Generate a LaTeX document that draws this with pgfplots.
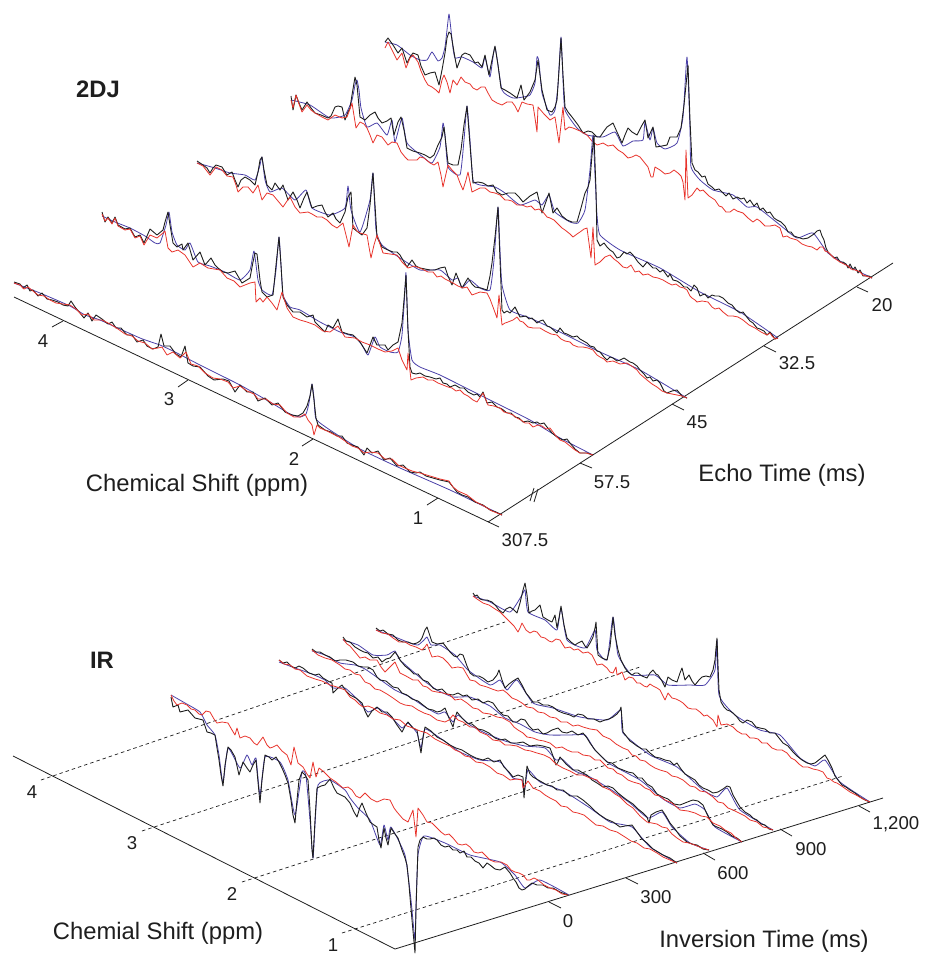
\documentclass[border=0pt]{standalone}
\usepackage{pgfplots}
\pgfplotsset{compat=1.18}
\usepackage{fontspec}
\setmainfont{Liberation Sans}
\definecolor{rd}{HTML}{E8342C}
\definecolor{bl}{HTML}{4A40A8}
\definecolor{bk}{HTML}{1E1E1E}
\pgfplotsset{
 kk/.style={bk,line width=0.9pt,line join=round,no markers},
 bb/.style={bl,line width=0.8pt,line join=round,no markers,smooth,tension=0.3},
 rr/.style={rd,line width=0.8pt,line join=round,no markers},
 ax/.style={bk,line width=0.8pt,no markers},
 dd/.style={bk,line width=0.7pt,dash pattern=on 3.5pt off 3pt,no markers},
}
\newcommand{\lab}{\fontsize{18.6}{20}\selectfont}
\newcommand{\tit}{\fontsize{23.8}{26}\selectfont}
\tikzset{tx/.style={inner sep=0pt,text=bk}}
\begin{document}
\begin{tikzpicture}
\begin{axis}[scale only axis,width=931pt,height=954pt,xmin=0,xmax=931,ymin=0,ymax=954,y dir=reverse,hide axis,clip=true]
% ===== top axes
\addplot[ax] coordinates {(14,297)(499,527)};
\addplot[ax] coordinates {(488,522)(893,263)};
\addplot[ax] coordinates {(63,321)(52,327)};
\addplot[ax] coordinates {(188,380)(178,387)};
\addplot[ax] coordinates {(313,439)(302,446)};
\addplot[ax] coordinates {(438,498)(427,505)};
\addplot[ax] coordinates {(580,463)(592,468)};
\addplot[ax] coordinates {(672,404)(684,410)};
\addplot[ax] coordinates {(764,346)(776,352)};
\addplot[ax] coordinates {(857,287)(868,292)};
\addplot[ax] coordinates {(530,501)(534,488)};
\addplot[ax] coordinates {(534,502)(538,489)};
% ===== T5
\addplot[bb] coordinates {(385,42)(397,45)(410,55)(420,60)(427,60)(432,52)(438,61)(442,58)(445,47)(447,30)(449,14)(451,30)(453,48)(455,58)(462,57)(473,62)(482,68)(485,57)(490,77)(495,47)(502,90)(513,98)(523,97)(530,95)(535,83)(537,57)(539,62)(542,93)(550,115)(555,110)(558,85)(561,37)(563,80)(565,110)(577,128)(587,135)(603,137)(615,132)(623,146)(633,141)(643,140)(645,122)(650,140)(653,128)(657,143)(665,149)(677,143)(683,117)(687,57)(690,130)(691,167)(700,180)(713,190)(733,195)(747,207)(757,207)(780,225)(797,238)(813,233)(828,253)(850,267)(872,278)};
\addplot[kk] coordinates {(385,42)(388,38)(393,45)(398,53)(402,48)(407,63)(410,57)(413,53)(418,55)(421,66)(425,75)(430,73)(435,72)(439,85)(442,70)(445,53)(447,38)(449,32)(451,34)(452,40)(455,58)(457,68)(460,60)(462,55)(465,53)(470,55)(475,63)(478,62)(482,67)(485,55)(489,75)(492,60)(495,46)(498,65)(501,88)(505,90)(510,93)(517,98)(521,85)(524,100)(530,92)(535,80)(538,60)(540,75)(542,90)(547,110)(552,112)(555,107)(557,100)(559,70)(561,38)(563,75)(565,107)(568,112)(572,117)(578,125)(583,133)(588,131)(592,132)(597,137)(600,137)(604,131)(607,127)(613,123)(617,132)(622,143)(625,135)(628,128)(632,132)(637,135)(641,127)(645,120)(648,138)(653,127)(656,147)(662,146)(667,145)(670,137)(677,137)(681,128)(684,105)(686,85)(688,65)(690,120)(692,163)(695,170)(698,172)(702,177)(705,176)(708,184)(712,187)(715,190)(719,189)(722,192)(726,196)(729,193)(733,199)(737,197)(741,199)(744,198)(747,203)(750,200)(754,206)(757,203)(760,210)(763,208)(767,213)(770,212)(774,218)(777,220)(781,222)(785,226)(788,232)(791,232)(794,236)(797,237)(803,239)(808,238)(814,234)(817,231)(820,230)(822,236)(824,240)(826,248)(828,252)(831,255)(834,258)(837,257)(840,262)(843,262)(846,264)(848,268)(850,264)(853,270)(855,267)(858,273)(860,270)(863,276)(866,276)(869,276)(872,278)};
\addplot[rr] coordinates {(385,48)(388,42)(392,50)(397,60)(402,53)(406,68)(410,58)(413,55)(418,62)(421,71)(425,80)(428,85)(432,87)(436,90)(439,93)(442,80)(444,75)(447,82)(450,93)(453,80)(457,85)(461,77)(465,82)(470,84)(473,88)(477,90)(481,87)(485,87)(488,93)(492,100)(497,103)(502,105)(507,102)(512,102)(515,106)(518,112)(522,102)(527,104)(533,105)(535,118)(537,132)(538,107)(544,114)(550,120)(555,117)(557,130)(559,143)(561,125)(563,107)(565,130)(569,127)(573,128)(580,131)(587,135)(592,141)(597,145)(603,143)(608,146)(613,145)(618,150)(623,153)(628,158)(632,157)(636,155)(640,157)(644,162)(648,167)(651,177)(653,177)(655,167)(660,170)(665,174)(670,173)(674,170)(678,173)(681,176)(683,182)(685,200)(686,150)(688,198)(692,195)(697,188)(700,191)(703,190)(709,196)(715,200)(719,206)(722,207)(726,212)(730,212)(734,209)(737,211)(743,213)(748,218)(753,222)(757,219)(760,221)(765,226)(770,226)(775,225)(780,228)(783,237)(787,236)(790,238)(797,240)(802,244)(807,246)(812,247)(817,250)(820,247)(823,247)(825,251)(828,252)(834,258)(840,262)(844,264)(848,266)(851,269)(855,270)(858,271)(860,272)(863,275)(866,276)(869,277)(872,278)};
% ===== T4
\addplot[bb] coordinates {(291,100)(310,105)(330,118)(345,115)(352,100)(355,85)(357,80)(359,90)(361,108)(367,127)(377,123)(387,135)(392,120)(395,142)(402,118)(407,143)(423,157)(432,163)(440,147)(443,123)(445,135)(448,167)(460,175)(464,140)(467,106)(470,140)(473,180)(480,185)(495,187)(505,193)(520,205)(535,200)(542,205)(549,195)(555,212)(570,222)(578,223)(585,210)(590,170)(593,135)(595,175)(597,215)(600,235)(620,250)(660,268)(700,292)(740,312)(778,338)};
\addplot[kk] coordinates {(291,96)(293,110)(296,95)(299,103)(302,110)(307,102)(311,108)(315,113)(321,115)(328,118)(331,116)(335,107)(338,106)(342,107)(345,120)(348,112)(350,108)(352,95)(355,77)(357,85)(360,117)(365,120)(370,115)(375,112)(378,118)(382,123)(387,121)(391,118)(394,135)(398,122)(401,117)(404,130)(407,148)(413,151)(420,153)(425,155)(430,158)(434,155)(438,145)(442,137)(444,127)(446,145)(448,163)(453,165)(458,165)(461,150)(464,125)(467,106)(470,145)(473,183)(478,182)(483,183)(488,186)(493,185)(497,192)(502,195)(508,193)(515,193)(519,197)(523,202)(530,196)(537,192)(542,213)(549,193)(553,213)(557,208)(562,216)(567,220)(572,222)(577,222)(581,208)(585,193)(588,187)(590,180)(592,155)(594,135)(596,190)(597,240)(600,246)(604,243)(607,247)(610,250)(613,252)(617,258)(620,257)(624,252)(627,254)(630,252)(633,255)(638,262)(643,267)(647,262)(650,265)(653,268)(656,268)(660,272)(663,270)(668,277)(670,274)(673,280)(677,281)(680,283)(684,287)(687,287)(691,291)(694,285)(697,288)(700,296)(702,295)(705,294)(708,298)(712,295)(715,296)(719,296)(723,298)(728,303)(732,305)(736,310)(740,313)(743,312)(746,316)(750,321)(753,323)(757,328)(760,329)(764,331)(767,335)(770,332)(775,339)(778,338)};
\addplot[rr] coordinates {(291,100)(293,108)(296,95)(299,104)(302,112)(307,105)(311,110)(315,113)(322,117)(328,120)(335,115)(342,118)(347,117)(350,109)(352,103)(356,128)(360,122)(364,124)(367,128)(370,135)(373,143)(377,135)(382,137)(385,141)(388,145)(392,142)(397,143)(401,152)(405,157)(408,160)(411,160)(417,160)(420,157)(424,158)(430,163)(434,165)(438,162)(441,175)(443,187)(448,165)(452,170)(457,175)(460,183)(463,190)(466,180)(468,172)(472,192)(476,190)(480,188)(485,188)(490,192)(495,193)(500,195)(505,200)(508,200)(512,201)(517,205)(522,205)(527,207)(531,206)(535,210)(539,209)(543,212)(547,217)(550,218)(554,220)(557,223)(562,228)(565,230)(570,234)(573,237)(577,234)(580,232)(584,229)(587,228)(589,243)(591,258)(593,227)(595,265)(600,262)(605,257)(610,255)(614,259)(618,262)(623,267)(627,268)(631,265)(635,272)(639,271)(643,275)(648,274)(653,277)(658,278)(663,280)(668,283)(672,285)(676,284)(680,287)(684,288)(687,290)(690,296)(692,298)(695,300)(697,302)(702,301)(708,302)(712,307)(715,309)(719,308)(723,312)(728,316)(733,316)(738,317)(743,320)(749,325)(755,328)(761,332)(767,335)(770,333)(772,336)(775,339)(778,338)};
% ===== T3
\addplot[bb] coordinates {(197,163)(215,168)(230,173)(245,175)(255,180)(260,165)(262,157)(265,180)(270,192)(282,188)(295,200)(306,190)(312,208)(330,215)(345,208)(348,186)(351,210)(360,232)(370,200)(373,173)(376,230)(382,245)(400,258)(420,270)(440,270)(452,280)(458,278)(462,288)(470,280)(480,288)(490,290)(494,260)(498,207)(500,250)(502,285)(510,310)(530,318)(560,332)(600,352)(640,370)(687,398)};
\addplot[kk] coordinates {(197,161)(203,165)(207,168)(210,173)(213,168)(216,165)(222,167)(227,175)(232,172)(235,180)(238,187)(241,180)(245,177)(250,180)(255,185)(258,172)(260,160)(262,157)(264,170)(267,185)(272,190)(275,183)(280,190)(283,185)(288,200)(293,192)(297,200)(300,208)(304,198)(307,192)(312,208)(317,206)(322,205)(325,212)(328,217)(333,213)(336,219)(340,223)(345,212)(348,197)(351,192)(353,228)(358,232)(362,235)(367,228)(370,205)(373,173)(375,205)(377,237)(382,247)(388,250)(393,252)(397,252)(400,255)(407,267)(412,260)(416,266)(420,268)(425,269)(430,270)(435,270)(440,268)(445,267)(448,276)(452,285)(456,273)(462,288)(468,278)(472,284)(475,287)(481,288)(487,290)(490,276)(492,263)(495,237)(498,207)(500,260)(502,310)(504,313)(507,311)(510,313)(515,307)(520,317)(526,316)(529,319)(532,318)(537,323)(540,321)(543,320)(547,326)(550,327)(557,333)(560,328)(564,333)(567,334)(573,337)(577,336)(580,339)(587,343)(590,346)(594,347)(597,351)(600,352)(604,357)(607,360)(610,357)(613,358)(617,361)(620,360)(624,358)(627,360)(630,362)(633,363)(637,366)(640,370)(644,374)(647,378)(650,377)(653,381)(657,380)(660,383)(664,391)(667,393)(672,391)(677,390)(682,396)(687,398)};
\addplot[rr] coordinates {(197,163)(203,166)(210,175)(216,167)(222,170)(227,176)(233,177)(236,185)(238,192)(243,187)(248,187)(253,193)(258,185)(262,200)(267,193)(273,195)(278,201)(283,207)(287,201)(290,197)(295,207)(300,213)(308,212)(312,214)(317,217)(322,217)(327,220)(332,225)(337,228)(343,223)(346,235)(349,247)(353,225)(357,231)(360,233)(367,235)(369,247)(371,258)(374,245)(377,235)(383,253)(390,254)(397,255)(402,262)(408,268)(414,266)(420,268)(428,272)(433,272)(437,277)(441,276)(445,279)(453,283)(458,286)(463,288)(467,287)(472,295)(480,292)(487,293)(490,299)(493,307)(497,318)(499,295)(502,325)(505,323)(508,322)(513,320)(517,317)(520,321)(523,322)(528,327)(533,328)(540,328)(545,331)(551,334)(557,335)(561,339)(565,341)(570,342)(573,345)(578,347)(583,347)(588,348)(593,350)(597,355)(600,357)(604,359)(607,362)(613,361)(620,364)(627,363)(633,367)(637,370)(640,374)(647,380)(652,384)(657,387)(662,391)(667,393)(672,394)(677,395)(682,396)(687,398)};
% ===== T2
\addplot[bb] coordinates {(102,216)(115,222)(130,228)(145,236)(155,243)(160,243)(166,225)(169,212)(172,232)(177,245)(185,250)(190,243)(198,262)(210,266)(225,272)(240,280)(250,270)(254,251)(258,280)(262,290)(272,295)(276,270)(279,237)(281,265)(283,295)(290,307)(300,310)(320,322)(340,332)(355,337)(362,345)(368,355)(375,337)(380,347)(390,352)(398,352)(402,335)(405,290)(406,273)(408,330)(412,360)(420,367)(440,375)(470,390)(500,405)(530,420)(560,438)(593,455)};
\addplot[kk] coordinates {(102,212)(105,222)(108,217)(112,223)(115,217)(118,225)(125,229)(130,228)(135,237)(140,235)(144,243)(150,229)(157,235)(163,230)(165,222)(168,212)(170,225)(173,243)(177,247)(182,244)(183,250)(188,243)(193,260)(200,252)(205,265)(211,258)(215,265)(218,268)(223,272)(228,273)(235,271)(242,283)(250,278)(253,262)(255,253)(257,254)(260,280)(262,292)(267,297)(273,295)(276,265)(279,237)(281,265)(283,297)(287,305)(293,312)(300,312)(307,317)(313,315)(315,322)(320,327)(325,332)(328,325)(333,328)(338,319)(342,332)(348,334)(353,335)(360,342)(367,353)(373,337)(377,345)(385,345)(388,350)(393,345)(398,342)(402,323)(404,300)(406,275)(408,330)(410,367)(412,373)(416,374)(420,373)(425,376)(430,377)(436,379)(440,378)(443,383)(447,384)(450,387)(455,385)(460,388)(464,388)(468,392)(474,395)(477,394)(480,397)(483,392)(487,403)(492,402)(497,407)(502,409)(507,413)(511,413)(515,417)(519,418)(523,422)(528,421)(533,423)(537,422)(540,424)(544,423)(547,427)(552,433)(557,437)(563,440)(567,439)(570,443)(575,449)(580,453)(587,453)(593,455)};
\addplot[rr] coordinates {(102,214)(105,221)(108,218)(112,224)(115,218)(118,226)(125,230)(130,229)(135,238)(140,236)(144,245)(150,235)(157,238)(163,233)(165,231)(168,248)(172,252)(178,250)(185,255)(193,267)(200,263)(208,268)(220,270)(227,278)(234,281)(240,287)(250,283)(255,282)(256,302)(260,298)(263,302)(267,297)(272,303)(277,310)(282,292)(287,308)(293,317)(300,320)(307,322)(315,325)(323,331)(330,332)(338,326)(345,337)(355,338)(362,342)(370,345)(378,349)(385,352)(392,351)(398,348)(402,360)(407,370)(408,353)(411,380)(416,378)(423,377)(428,380)(433,380)(438,383)(443,385)(448,387)(452,388)(456,391)(460,390)(464,394)(468,396)(473,400)(477,402)(483,393)(488,405)(494,406)(500,408)(504,412)(508,413)(513,415)(517,418)(521,420)(525,423)(529,423)(533,427)(538,425)(542,426)(546,429)(550,428)(556,436)(560,440)(565,442)(570,446)(575,450)(580,453)(586,453)(593,455)};
% ===== T1
\addplot[bb] coordinates {(14,283)(40,293)(70,306)(85,315)(100,320)(140,338)(160,345)(175,352)(200,365)(240,385)(270,402)(290,414)(300,417)(306,414)(309,403)(312,384)(314,398)(316,419)(330,430)(360,449)(400,468)(450,490)(502,515)};
\addplot[kk] coordinates {(14,282)(20,284)(23,288)(27,285)(30,291)(33,290)(38,296)(42,293)(47,299)(52,300)(58,302)(63,305)(68,306)(71,301)(75,307)(80,313)(84,318)(88,313)(92,321)(96,315)(102,319)(108,324)(112,322)(116,328)(121,328)(127,335)(132,335)(137,342)(143,340)(147,346)(153,349)(158,347)(161,334)(164,346)(170,346)(176,354)(181,357)(185,346)(188,363)(193,366)(200,367)(208,376)(214,380)(223,379)(229,381)(235,392)(240,385)(247,392)(253,392)(258,401)(265,398)(272,405)(278,403)(285,412)(292,415)(298,416)(303,413)(307,406)(310,396)(312,384)(314,400)(316,418)(318,425)(325,430)(331,432)(337,436)(342,436)(347,443)(352,445)(358,447)(364,455)(367,448)(372,453)(378,451)(384,460)(390,458)(397,466)(403,465)(410,472)(416,473)(420,472)(426,476)(433,478)(440,480)(449,482)(453,487)(457,492)(462,495)(468,497)(475,502)(483,505)(490,510)(496,512)(502,515)};
\addplot[rr] coordinates {(14,283)(20,285)(24,289)(28,287)(33,291)(38,295)(44,296)(50,300)(56,303)(63,304)(70,305)(76,309)(82,315)(88,314)(94,320)(102,320)(110,324)(118,329)(125,334)(132,336)(138,341)(145,343)(152,349)(158,348)(162,347)(167,355)(173,352)(180,358)(186,352)(191,364)(198,366)(205,373)(213,378)(220,379)(228,382)(233,388)(240,386)(247,391)(254,394)(258,399)(266,399)(273,404)(280,405)(287,413)(294,417)(300,417)(305,414)(308,420)(312,425)(314,435)(317,425)(320,428)(327,431)(333,434)(339,437)(345,441)(352,446)(358,448)(364,453)(370,452)(378,453)(385,459)(392,459)(398,465)(405,468)(412,471)(420,473)(430,476)(440,479)(449,481)(453,487)(458,491)(467,495)(476,502)(484,506)(492,511)(502,515)};
% ===== bottom axes
\addplot[ax] coordinates {(13,756)(395,949)};
\addplot[ax] coordinates {(395,949)(883,798)};
\addplot[dd] coordinates {(41,780)(505,622)};
\addplot[dd] coordinates {(142,831)(640,667)};
\addplot[dd] coordinates {(242,882)(737,723)};
\addplot[dd] coordinates {(342,933)(843,776)};
\addplot[ax] coordinates {(549,902)(561,908)};
\addplot[ax] coordinates {(626,878)(638,884)};
\addplot[ax] coordinates {(703,853)(715,860)};
\addplot[ax] coordinates {(780,829)(792,836)};
\addplot[ax] coordinates {(859,806)(870,812)};
% ===== B6
\addplot[bb] coordinates {(473,596)(490,602)(510,612)(522,595)(525,590)(528,612)(545,620)(557,630)(561,608)(567,640)(585,648)(595,630)(597,650)(607,660)(613,617)(618,655)(632,675)(655,675)(668,685)(690,685)(705,685)(715,670)(717,640)(719,695)(735,715)(760,730)(780,735)(800,758)(815,766)(825,760)(840,782)(870,802)};
\addplot[kk] coordinates {(473,593)(475,596)(477,595)(480,599)(483,600)(487,600)(492,602)(496,606)(499,610)(503,613)(506,609)(510,607)(514,610)(517,613)(520,603)(523,590)(525,583)(527,595)(529,613)(532,611)(535,610)(538,607)(540,605)(543,617)(548,620)(552,622)(555,615)(557,628)(559,618)(561,606)(564,625)(567,638)(571,642)(575,645)(578,643)(582,641)(585,646)(587,648)(590,643)(593,637)(595,628)(596,622)(598,655)(602,658)(607,660)(610,647)(612,628)(613,617)(615,635)(618,650)(621,660)(625,668)(628,672)(632,675)(635,673)(638,673)(642,676)(647,678)(650,673)(653,670)(656,674)(658,675)(662,681)(665,687)(668,677)(672,680)(677,682)(680,673)(682,668)(685,680)(689,675)(692,681)(695,685)(699,680)(702,677)(706,676)(710,677)(713,670)(715,660)(716,648)(717,638)(718,665)(719,690)(721,702)(724,707)(727,710)(730,711)(733,713)(737,717)(740,721)(743,723)(747,720)(752,722)(756,727)(760,728)(765,729)(770,733)(775,733)(779,738)(783,743)(788,746)(793,752)(797,756)(802,760)(807,763)(811,764)(815,763)(820,759)(825,755)(828,760)(832,768)(835,776)(838,780)(842,785)(846,787)(850,790)(855,793)(860,797)(865,800)(870,802)};
\addplot[rr] coordinates {(473,596)(477,599)(483,603)(489,605)(495,609)(500,612)(505,617)(510,622)(514,626)(518,632)(520,628)(522,623)(526,630)(530,633)(534,631)(537,632)(541,637)(545,638)(549,641)(552,642)(556,639)(560,640)(565,648)(570,647)(574,650)(578,649)(583,653)(588,652)(592,655)(597,665)(602,664)(607,668)(610,672)(613,673)(616,667)(617,675)(622,672)(625,680)(629,677)(633,678)(637,683)(640,683)(644,686)(647,687)(650,684)(653,686)(657,688)(660,690)(665,700)(668,693)(672,698)(676,699)(680,701)(683,703)(688,708)(692,709)(696,709)(700,712)(704,716)(707,715)(713,720)(717,727)(718,715)(721,725)(727,724)(733,727)(737,731)(742,734)(746,734)(750,738)(754,738)(758,739)(762,743)(767,743)(772,748)(777,750)(782,750)(787,753)(791,758)(795,760)(799,764)(803,767)(808,767)(813,769)(818,770)(823,772)(827,778)(830,779)(834,782)(837,783)(843,787)(850,792)(856,795)(863,799)(870,802)};
% ===== B5
\addplot[bb] coordinates {(376,630)(395,637)(410,643)(418,645)(424,640)(427,637)(431,645)(440,645)(455,655)(468,670)(490,685)(500,680)(507,690)(517,680)(533,703)(553,708)(580,717)(607,720)(621,710)(623,733)(650,755)(677,767)(703,790)(717,797)(727,788)(740,810)(773,830)};
\addplot[kk] coordinates {(376,628)(380,631)(383,630)(388,634)(393,635)(398,640)(403,642)(408,642)(413,644)(417,643)(420,641)(422,638)(425,630)(427,627)(430,636)(432,642)(437,644)(443,643)(447,648)(450,652)(454,656)(457,657)(460,654)(463,655)(467,666)(470,673)(474,676)(479,676)(483,678)(488,682)(493,680)(497,675)(499,670)(502,680)(505,688)(509,684)(513,681)(518,678)(522,685)(526,693)(530,698)(533,702)(538,702)(543,705)(548,705)(553,707)(558,711)(563,713)(570,715)(574,717)(578,714)(583,715)(588,719)(594,719)(600,722)(605,720)(609,719)(613,717)(617,714)(620,710)(621,707)(623,732)(627,737)(630,741)(633,743)(637,746)(642,749)(646,749)(650,753)(655,757)(660,758)(665,760)(670,761)(674,765)(677,763)(681,769)(685,774)(690,777)(695,780)(699,785)(703,788)(708,790)(713,793)(718,792)(723,789)(727,786)(730,787)(733,795)(737,802)(740,807)(745,812)(750,815)(753,818)(757,820)(761,824)(765,825)(769,829)(773,830)};
\addplot[rr] coordinates {(376,630)(382,633)(388,634)(393,638)(399,642)(405,642)(410,645)(416,647)(422,650)(425,647)(427,644)(430,652)(432,657)(438,656)(443,658)(448,663)(452,668)(458,667)(463,668)(467,675)(470,680)(475,681)(480,685)(487,687)(492,689)(498,691)(503,690)(507,693)(512,698)(517,700)(522,703)(527,707)(533,708)(538,712)(544,713)(550,717)(556,718)(561,722)(567,722)(573,726)(578,725)(583,727)(590,729)(597,730)(603,736)(610,739)(616,744)(623,748)(628,750)(632,755)(636,756)(640,760)(645,761)(650,765)(655,768)(660,770)(667,772)(672,776)(677,777)(683,780)(690,786)(695,787)(700,791)(706,792)(713,797)(718,802)(723,803)(728,808)(733,810)(739,813)(745,816)(750,820)(757,822)(763,827)(768,828)(773,830)};
% ===== B4
\addplot[bb] coordinates {(343,640)(358,645)(373,655)(387,655)(395,651)(400,660)(423,680)(437,690)(453,697)(470,697)(490,706)(505,718)(520,724)(535,732)(550,735)(570,735)(585,735)(595,750)(610,764)(640,780)(663,799)(680,808)(695,804)(705,810)(715,827)(742,842)};
\addplot[kk] coordinates {(343,637)(346,641)(350,642)(355,647)(360,650)(364,652)(368,653)(373,658)(378,657)(382,662)(386,659)(390,658)(395,652)(398,656)(400,660)(405,666)(410,670)(414,674)(418,674)(423,680)(428,682)(433,688)(437,690)(442,689)(447,694)(453,695)(458,693)(463,696)(467,695)(472,700)(478,699)(483,703)(488,701)(493,703)(498,710)(503,715)(508,716)(513,722)(517,722)(521,719)(525,720)(529,726)(533,730)(538,729)(543,734)(547,733)(552,730)(558,728)(562,732)(567,733)(572,731)(578,735)(583,733)(587,738)(590,743)(595,750)(600,755)(607,762)(612,763)(618,768)(623,770)(628,772)(633,773)(638,778)(642,778)(647,784)(652,787)(657,794)(663,797)(668,799)(674,804)(680,805)(685,803)(690,801)(693,800)(698,801)(703,805)(706,812)(710,820)(713,825)(717,827)(722,829)(727,832)(732,836)(737,838)(742,842)};
\addplot[rr] coordinates {(343,639)(347,644)(350,646)(355,652)(360,658)(365,657)(370,660)(377,660)(381,667)(385,672)(390,667)(395,662)(400,673)(406,676)(413,680)(418,680)(423,686)(427,687)(432,691)(437,692)(443,693)(450,695)(455,700)(461,699)(467,703)(473,708)(478,709)(483,713)(490,714)(497,717)(503,718)(510,722)(514,727)(518,730)(523,733)(527,737)(533,738)(538,740)(544,741)(550,743)(556,748)(562,747)(567,750)(572,752)(578,752)(583,755)(590,756)(595,760)(600,760)(605,765)(608,768)(613,769)(617,773)(622,775)(628,780)(633,782)(640,784)(645,788)(650,790)(655,795)(660,796)(665,800)(672,803)(680,810)(688,811)(695,813)(701,816)(707,817)(713,823)(720,826)(725,830)(731,833)(736,838)(742,842)};
% ===== B3
\addplot[bb] coordinates {(312,651)(325,655)(340,663)(355,665)(365,669)(378,678)(395,690)(410,697)(425,707)(438,714)(445,712)(453,722)(458,715)(470,725)(485,733)(505,741)(525,746)(545,748)(556,760)(562,759)(575,771)(590,777)(610,789)(630,803)(648,818)(662,812)(672,827)(690,843)(709,850)};
\addplot[kk] coordinates {(312,649)(316,652)(320,652)(325,655)(330,657)(335,661)(340,660)(346,660)(353,662)(358,666)(363,667)(368,667)(373,670)(377,677)(380,680)(386,681)(393,687)(398,688)(402,693)(407,695)(412,699)(418,701)(423,705)(428,709)(433,710)(437,712)(441,711)(445,708)(449,718)(453,727)(455,718)(457,712)(462,718)(467,723)(472,724)(478,729)(483,730)(489,733)(495,738)(500,740)(505,739)(511,743)(517,743)(523,742)(530,746)(537,745)(543,746)(550,748)(553,756)(556,765)(558,762)(560,757)(566,764)(573,770)(578,770)(583,773)(587,775)(592,780)(597,783)(603,787)(608,786)(613,788)(618,793)(623,797)(627,800)(633,804)(638,809)(643,813)(647,817)(649,823)(651,815)(656,812)(662,810)(666,816)(670,823)(675,829)(680,836)(687,842)(692,844)(697,845)(703,849)(709,850)};
\addplot[rr] coordinates {(312,650)(318,655)(325,658)(332,660)(340,665)(345,669)(350,670)(355,674)(360,675)(365,682)(370,684)(375,689)(380,690)(387,694)(393,698)(400,703)(405,705)(412,706)(418,710)(424,713)(430,715)(437,720)(445,722)(449,720)(453,715)(458,720)(463,722)(470,727)(475,727)(480,732)(487,735)(493,740)(500,741)(505,745)(510,745)(517,746)(525,750)(531,751)(537,753)(544,755)(550,758)(556,764)(563,768)(570,771)(577,775)(583,775)(590,778)(597,780)(603,787)(610,790)(615,794)(620,797)(627,804)(633,808)(640,816)(647,822)(652,823)(657,824)(662,827)(667,828)(672,834)(677,838)(683,842)(689,843)(695,845)(702,848)(709,850)};
% ===== B2
\addplot[bb] coordinates {(279,662)(295,668)(312,674)(325,680)(333,688)(345,688)(358,700)(368,712)(378,708)(392,718)(402,728)(408,723)(417,733)(421,748)(425,729)(440,738)(460,752)(480,760)(500,762)(513,778)(522,780)(524,793)(528,770)(540,782)(565,792)(590,808)(610,822)(632,827)(650,847)(677,863)};
\addplot[kk] coordinates {(279,660)(283,663)(287,662)(291,666)(295,668)(299,666)(303,668)(309,673)(315,675)(319,674)(323,678)(328,681)(332,683)(333,693)(338,688)(342,685)(346,691)(350,695)(356,698)(362,703)(365,711)(368,717)(372,711)(377,707)(382,712)(387,712)(392,717)(397,725)(402,732)(405,726)(408,722)(413,728)(417,730)(419,742)(421,753)(423,738)(425,727)(431,731)(437,737)(443,740)(450,745)(456,748)(462,750)(470,755)(476,758)(483,760)(488,758)(494,762)(500,760)(504,767)(509,772)(513,777)(518,775)(523,777)(524,798)(527,766)(530,774)(533,777)(540,781)(547,785)(552,786)(557,790)(563,790)(570,796)(577,796)(583,800)(590,806)(595,811)(600,815)(606,819)(613,822)(620,827)(625,826)(632,825)(637,832)(642,839)(647,843)(653,849)(658,852)(663,855)(670,858)(677,863)};
\addplot[rr] coordinates {(279,660)(284,664)(290,665)(295,669)(300,670)(307,676)(315,679)(322,681)(330,685)(337,687)(345,690)(350,697)(355,700)(359,704)(363,707)(368,706)(373,708)(380,713)(387,715)(393,719)(400,720)(407,726)(413,728)(420,731)(427,733)(435,739)(443,743)(450,746)(455,750)(460,752)(465,756)(470,757)(476,762)(483,763)(490,767)(497,773)(503,775)(510,780)(516,779)(522,780)(523,788)(528,781)(533,788)(540,791)(545,795)(550,798)(556,801)(561,806)(567,807)(573,812)(578,813)(584,815)(590,820)(596,825)(603,826)(610,830)(617,832)(625,837)(631,841)(637,843)(644,848)(650,849)(657,853)(663,857)(670,860)(677,863)};
% ===== B1
\addplot[bb] coordinates {(171,695)(185,703)(200,712)(207,725)(215,735)(219,755)(223,783)(228,748)(240,768)(247,755)(252,765)(256,758)(260,795)(265,757)(280,762)(288,780)(295,815)(302,772)(306,776)(310,820)(313,858)(315,825)(318,785)(330,780)(345,790)(350,798)(358,808)(370,820)(380,845)(384,825)(388,840)(391,827)(405,855)(411,900)(415,940)(416,905)(418,855)(424,836)(445,843)(470,855)(500,862)(515,875)(525,888)(540,880)(569,895)};
\addplot[kk] coordinates {(171,697)(173,707)(178,705)(180,712)(184,711)(188,710)(195,718)(199,719)(203,720)(207,732)(211,733)(215,735)(217,748)(219,760)(221,775)(223,786)(225,765)(228,747)(231,750)(235,757)(237,766)(239,775)(243,762)(247,768)(250,772)(253,765)(256,760)(258,782)(260,803)(262,780)(265,755)(269,757)(272,760)(276,757)(279,762)(282,768)(285,775)(288,783)(291,800)(293,815)(295,823)(297,800)(299,780)(302,772)(305,775)(308,780)(310,810)(312,850)(313,858)(315,820)(317,788)(321,786)(325,785)(330,779)(334,788)(337,793)(341,795)(345,797)(350,803)(354,812)(357,817)(360,807)(362,803)(366,813)(370,822)(374,825)(377,827)(379,840)(381,848)(384,828)(386,838)(388,845)(391,828)(395,834)(398,838)(402,850)(405,858)(407,865)(409,885)(410,897)(412,920)(415,953)(416,910)(418,847)(420,840)(423,837)(427,839)(430,839)(434,838)(437,840)(441,845)(445,847)(449,846)(453,850)(457,850)(460,853)(464,851)(467,857)(471,857)(475,861)(479,863)(483,868)(487,863)(490,865)(495,869)(500,870)(505,867)(510,873)(513,878)(516,882)(519,888)(522,890)(525,889)(527,887)(532,883)(537,885)(543,885)(548,888)(553,888)(560,892)(568,895)};
\addplot[rr] coordinates {(171,695)(174,701)(177,705)(182,703)(187,705)(191,709)(195,710)(199,714)(202,715)(206,711)(210,712)(214,719)(217,723)(222,722)(228,723)(232,730)(235,735)(237,728)(240,738)(245,736)(250,738)(254,743)(257,745)(260,741)(263,737)(267,745)(270,748)(273,747)(277,745)(282,751)(287,755)(291,765)(294,747)(298,763)(303,767)(307,774)(310,778)(313,762)(316,777)(319,768)(324,772)(330,778)(336,782)(343,788)(348,787)(352,790)(356,796)(360,798)(365,793)(371,799)(377,802)(384,799)(390,800)(394,808)(397,812)(403,819)(408,822)(413,810)(416,837)(418,808)(423,815)(427,822)(432,823)(437,828)(441,832)(445,835)(449,834)(453,838)(458,844)(462,845)(466,844)(470,847)(474,852)(478,853)(482,852)(485,855)(490,860)(495,862)(501,862)(507,865)(511,870)(515,872)(519,873)(523,875)(527,880)(530,880)(534,878)(538,880)(544,885)(550,888)(556,890)(562,894)(568,895)};
% ===== text
\node[tx,font=\tit\bfseries] at (axis cs:98,89) {2DJ};
\node[tx,font=\tit\bfseries] at (axis cs:102,660) {IR};
\node[tx,font=\lab] at (axis cs:43,341) {4};
\node[tx,font=\lab] at (axis cs:169,399) {3};
\node[tx,font=\lab] at (axis cs:294,459) {2};
\node[tx,font=\lab] at (axis cs:418,518) {1};
\node[tx,font=\lab] at (axis cs:525,540) {307.5};
\node[tx,font=\lab] at (axis cs:612,482) {57.5};
\node[tx,font=\lab] at (axis cs:697,422) {45};
\node[tx,font=\lab] at (axis cs:797,363) {32.5};
\node[tx,font=\lab] at (axis cs:882,305) {20};
\node[tx,font=\tit] at (axis cs:197,485) {Chemical Shift (ppm)};
\node[tx,font=\tit] at (axis cs:782,475) {Echo Time (ms)};
\node[tx,font=\lab] at (axis cs:32,792) {4};
\node[tx,font=\lab] at (axis cs:132,843) {3};
\node[tx,font=\lab] at (axis cs:232,894) {2};
\node[tx,font=\lab] at (axis cs:333,945) {1};
\node[tx,font=\lab] at (axis cs:568,921) {0};
\node[tx,font=\lab] at (axis cs:656,897) {300};
\node[tx,font=\lab] at (axis cs:733,873) {600};
\node[tx,font=\lab] at (axis cs:811,849) {900};
\node[tx,font=\lab] at (axis cs:896,824) {1,200};
\node[tx,font=\tit] at (axis cs:158,933) {Chemial Shift (ppm)};
\node[tx,font=\tit] at (axis cs:764,941) {Inversion Time (ms)};
\end{axis}
\pgfresetboundingbox
\useasboundingbox (0,0) rectangle (931pt,954pt);
\end{tikzpicture}
\end{document}
